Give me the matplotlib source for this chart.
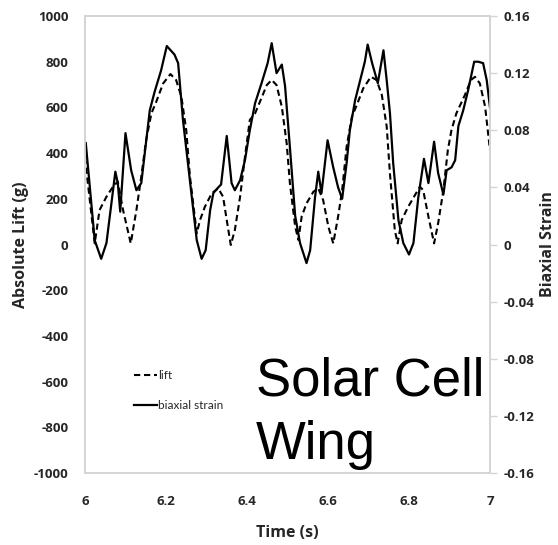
import matplotlib
matplotlib.use("Agg")
import matplotlib.pyplot as plt

plt.rcParams['font.family'] = ['Open Sans', 'DejaVu Sans']

# lift (g) vs time (s)
lift_t = [6.000, 6.024, 6.036, 6.053, 6.069, 6.081, 6.094, 6.113, 6.127, 6.139,
          6.151, 6.164, 6.176, 6.193, 6.211, 6.225, 6.238, 6.250, 6.259, 6.276,
          6.284, 6.296, 6.313, 6.329, 6.341, 6.350, 6.360, 6.370, 6.383, 6.395,
          6.407, 6.420, 6.432, 6.449, 6.461, 6.473, 6.486, 6.498, 6.506, 6.519,
          6.527, 6.535, 6.547, 6.564, 6.576, 6.588, 6.601, 6.613, 6.625, 6.635,
          6.646, 6.659, 6.671, 6.687, 6.706, 6.720, 6.733, 6.745, 6.753, 6.765,
          6.772, 6.782, 6.798, 6.815, 6.827, 6.835, 6.848, 6.862, 6.872, 6.885,
          6.896, 6.905, 6.917, 6.938, 6.953, 6.963, 6.975, 6.988, 7.000]
lift = [380, 5, 151, 209, 253, 275, 151, 5, 151, 297,
        457, 574, 625, 705, 746, 720, 647, 501, 300, 49,
        107, 165, 224, 246, 209, 107, -2, 63, 209, 384,
        545, 574, 625, 698, 720, 698, 603, 443, 268, 78,
        20, 122, 180, 231, 246, 195, 78, 5, 122, 238,
        428, 559, 610, 683, 734, 720, 654, 516, 310, 63,
        5, 107, 165, 217, 253, 238, 122, 5, 93, 238,
        414, 501, 574, 654, 720, 734, 705, 603, 413]

# biaxial strain vs time (s)
strain_t = [6.002, 6.024, 6.040, 6.053, 6.075, 6.081, 6.087, 6.100, 6.114, 6.127,
            6.139, 6.160, 6.172, 6.188, 6.202, 6.221, 6.230, 6.242, 6.259, 6.276,
            6.288, 6.298, 6.309, 6.317, 6.329, 6.336, 6.350, 6.362, 6.370, 6.383,
            6.395, 6.407, 6.420, 6.436, 6.451, 6.461, 6.473, 6.486, 6.494, 6.506,
            6.519, 6.531, 6.547, 6.556, 6.568, 6.576, 6.584, 6.599, 6.613, 6.625,
            6.635, 6.646, 6.654, 6.667, 6.683, 6.691, 6.698, 6.709, 6.723, 6.737,
            6.745, 6.753, 6.761, 6.774, 6.786, 6.800, 6.811, 6.823, 6.837, 6.848,
            6.862, 6.872, 6.885, 6.893, 6.905, 6.914, 6.922, 6.934, 6.946, 6.961,
            6.971, 6.983, 6.992, 7.000]
strain = [0.071, 0.003, -0.010, 0.001, 0.051, 0.043, 0.023, 0.078, 0.052, 0.038,
          0.043, 0.094, 0.107, 0.122, 0.139, 0.133, 0.127, 0.087, 0.045, 0.003,
          -0.010, -0.004, 0.024, 0.036, 0.040, 0.042, 0.076, 0.043, 0.038, 0.045,
          0.059, 0.080, 0.099, 0.113, 0.127, 0.141, 0.120, 0.126, 0.111, 0.068,
          0.020, 0.001, -0.013, -0.004, 0.033, 0.051, 0.036, 0.073, 0.054, 0.040,
          0.032, 0.057, 0.080, 0.101, 0.119, 0.128, 0.140, 0.127, 0.113, 0.136,
          0.115, 0.092, 0.057, 0.017, 0.001, -0.007, 0.001, 0.033, 0.060, 0.043,
          0.072, 0.050, 0.035, 0.052, 0.054, 0.059, 0.083, 0.094, 0.108, 0.128,
          0.128, 0.127, 0.115, 0.096]

x_ticks = [6, 6.2, 6.4, 6.6, 6.8, 7]
x_tick_labels = ['6', '6.2', '6.4', '6.6', '6.8', '7']
lift_ticks = list(range(-1000, 1001, 200))
strain_ticks = [-0.16, -0.12, -0.08, -0.04, 0, 0.04, 0.08, 0.12, 0.16]
strain_tick_labels = ['-0.16', '-0.12', '-0.08', '-0.04', '0', '0.04', '0.08', '0.12', '0.16']

frame_color = '#d4d4d4'
text_color = '#262626'

fig = plt.figure(figsize=(5.58, 5.45), dpi=100)
ax = fig.add_axes([0.1523, 0.1321, 0.7258, 0.8385])
ax2 = ax.twinx()

l1, = ax.plot(lift_t, lift, color='black', lw=1.5, linestyle=(0, (3.0, 1.8)), label='lift')
l2, = ax2.plot(strain_t, strain, color='black', lw=1.6, label='biaxial strain')

ax.set_xlim(6, 7)
ax.set_ylim(-1000, 1000)
ax2.set_ylim(-0.16, 0.16)

ax.set_xticks(x_ticks)
ax.set_xticklabels(x_tick_labels)
ax.set_yticks(lift_ticks)
ax.set_yticklabels([str(v) for v in lift_ticks])
ax2.set_yticks(strain_ticks)
ax2.set_yticklabels(strain_tick_labels)

for a in (ax, ax2):
    for s in a.spines.values():
        s.set_color(frame_color)
        s.set_linewidth(1.2)

ax.tick_params(axis='x', length=0, pad=16, labelsize=9.5, labelcolor=text_color)
ax.tick_params(axis='y', length=0, pad=12, labelsize=9.5, labelcolor=text_color)
ax2.tick_params(axis='y', length=5, width=1, color=frame_color, pad=5,
                labelsize=9.5, labelcolor=text_color)
for lab in ax.get_xticklabels() + ax.get_yticklabels() + ax2.get_yticklabels():
    lab.set_fontweight('bold')

ax.set_xlabel('Time (s)', fontsize=11.5, fontweight='bold', color=text_color, labelpad=12)
ax.set_ylabel('Absolute Lift (g)', fontsize=11.5, fontweight='bold', color=text_color, labelpad=3)
ax2.set_ylabel('Biaxial Strain', fontsize=11.5, fontweight='bold', color=text_color, labelpad=4)

leg = ax.legend(handles=[l1, l2], loc='upper left', bbox_to_anchor=(0.11, 0.235),
                frameon=False, prop={'family': ['Lato', 'DejaVu Sans'], 'size': 8.5},
                handlelength=1.9, handletextpad=0.1, labelspacing=1.55, borderaxespad=0)
for t in leg.get_texts():
    t.set_color(text_color)

fig.text(256 / 558, 1 - 395 / 545, 'Solar Cell', fontsize=38,
         family=['Liberation Sans', 'DejaVu Sans'], color='black', va='baseline', ha='left')
fig.text(256 / 558, 1 - 459 / 545, 'Wing', fontsize=38,
         family=['Liberation Sans', 'DejaVu Sans'], color='black', va='baseline', ha='left')

fig.savefig('out.png', dpi=100)
